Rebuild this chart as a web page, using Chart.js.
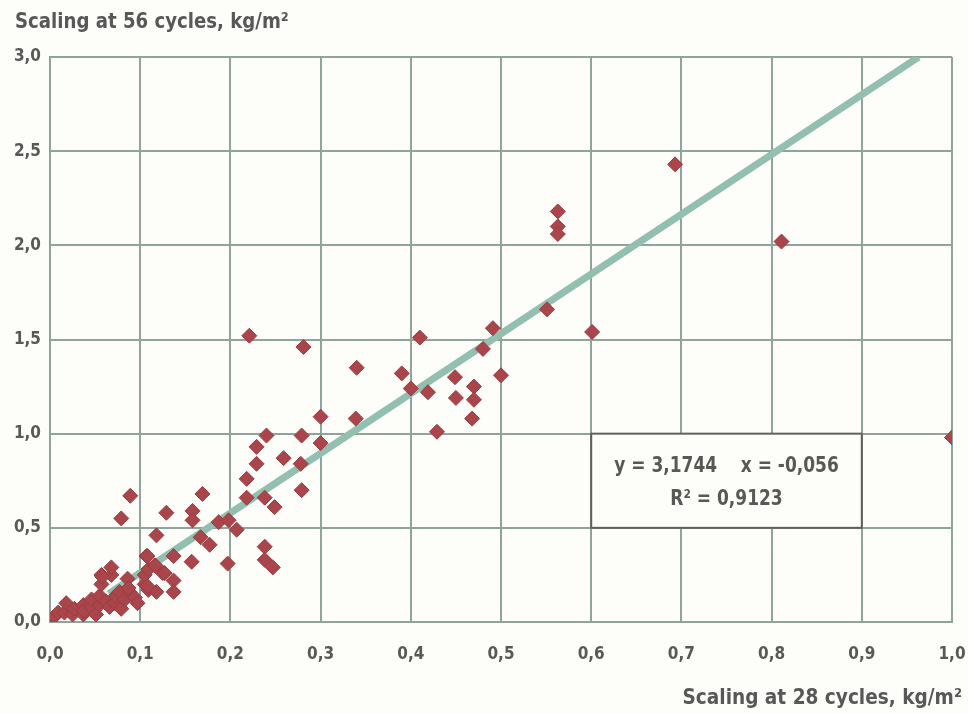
<!DOCTYPE html>
<html>
<head>
<meta charset="utf-8">
<script src="https://cdn.jsdelivr.net/npm/chart.js@4.4.1/dist/chart.umd.min.js"></script>
<style>
  html, body { margin: 0; padding: 0; background: #fdfdf9; }
  #wrap { width: 968px; height: 713px; position: relative; }
</style>
</head>
<body>
<div id="wrap"><canvas id="chart" width="968" height="713"></canvas></div>
<script>
// ========== Data ==========
const xTicks = [0, 0.1, 0.2, 0.3, 0.4, 0.5, 0.6, 0.7, 0.8, 0.9, 1.0];
const yTicks = [0, 0.5, 1.0, 1.5, 2.0, 2.5, 3.0];

// scaling at 28 cycles (x) vs scaling at 56 cycles (y), kg/m2
const scaling28 = [
  0.000, 0.005, 0.009, 0.016, 0.018, 0.025, 0.027, 0.037, 0.037, 0.038,
  0.046, 0.046, 0.051, 0.055, 0.055, 0.057, 0.057, 0.062, 0.066, 0.068,
  0.068, 0.072, 0.073, 0.077, 0.079, 0.083, 0.086, 0.088, 0.094, 0.097,
  0.105, 0.105, 0.107, 0.109, 0.109, 0.116, 0.118, 0.125, 0.058, 0.087,
  0.079, 0.089, 0.108, 0.118, 0.137, 0.137, 0.137, 0.127, 0.117, 0.108,
  0.129, 0.158, 0.158, 0.167, 0.177, 0.157, 0.187, 0.198, 0.207, 0.197,
  0.169, 0.218, 0.218, 0.238, 0.249, 0.238, 0.238, 0.247, 0.229, 0.229,
  0.259, 0.279, 0.278, 0.279, 0.240, 0.221, 0.281, 0.300, 0.300, 0.340,
  0.339, 0.390, 0.400, 0.419, 0.410, 0.429, 0.449, 0.450, 0.470, 0.470,
  0.468, 0.480, 0.491, 0.500, 0.551, 0.563, 0.563, 0.563, 0.601, 0.693,
  0.811, 1.000
];
const scaling56 = [
  0.00, 0.03, 0.05, 0.05, 0.10, 0.04, 0.07, 0.04, 0.09, 0.06,
  0.08, 0.12, 0.04, 0.09, 0.14, 0.20, 0.25, 0.11, 0.08, 0.25,
  0.29, 0.10, 0.14, 0.16, 0.07, 0.12, 0.23, 0.16, 0.13, 0.10,
  0.20, 0.25, 0.35, 0.17, 0.28, 0.30, 0.16, 0.26, 0.24, 0.18,
  0.55, 0.67, 0.19, 0.46, 0.35, 0.22, 0.16, 0.26, 0.30, 0.35,
  0.58, 0.59, 0.54, 0.45, 0.41, 0.32, 0.53, 0.54, 0.49, 0.31,
  0.68, 0.76, 0.66, 0.66, 0.61, 0.40, 0.33, 0.29, 0.93, 0.84,
  0.87, 0.99, 0.84, 0.70, 0.99, 1.52, 1.46, 1.09, 0.95, 1.35,
  1.08, 1.32, 1.24, 1.22, 1.51, 1.01, 1.30, 1.19, 1.25, 1.18,
  1.08, 1.45, 1.56, 1.31, 1.66, 2.18, 2.10, 2.06, 1.54, 2.43,
  2.02, 0.98
];

// regression line endpoints as drawn: y = 3,1744x - 0,056
const fitX = [0.065, 0.963];
const fitY = [0.15, 3.0];
const fitLabel = ['y = 3,1744    x = -0,056', 'R² = 0,9123'];
const yTitle = 'Scaling at 56 cycles, kg/m²';
const xTitle = 'Scaling at 28 cycles, kg/m²';

// ========== Styles ==========
const FONT = "'DejaVu Sans Condensed', 'DejaVu Sans', sans-serif";
const TEXT = '#585858';
const GRID = '#8fa59c';

const comma = v => Number(v).toFixed(1).replace('.', ',');

// draw text squeezed horizontally (the original uses a condensed face)
function squeezed(ctx, text, x, y, sx) {
  ctx.save();
  ctx.translate(x, y);
  ctx.scale(sx, 1);
  ctx.fillText(text, 0, 0);
  ctx.restore();
}

// titles + equation box, drawn on top of the chart area
const annotations = {
  id: 'annotations',
  afterDraw(chart) {
    const { ctx, scales } = chart;
    const x = scales.x, y = scales.y;
    ctx.save();

    // equation box sits between grid cells 0.6-0.9 / 0.5-1.0
    const bx1 = x.getPixelForValue(0.6), bx2 = x.getPixelForValue(0.9);
    const by1 = y.getPixelForValue(1.0), by2 = y.getPixelForValue(0.5);
    ctx.fillStyle = '#fdfdf9';
    ctx.fillRect(bx1, by1, bx2 - bx1, by2 - by1);
    ctx.strokeStyle = '#606060';
    ctx.lineWidth = 2;
    ctx.strokeRect(bx1, by1, bx2 - bx1, by2 - by1);

    ctx.fillStyle = TEXT;
    ctx.font = `bold 22px ${FONT}`;
    ctx.textAlign = 'center';
    ctx.textBaseline = 'middle';
    const cx = (bx1 + bx2) / 2;
    squeezed(ctx, fitLabel[0], cx, by1 + 33, 0.86);
    squeezed(ctx, fitLabel[1], cx, by1 + 66, 0.86);

    // axis titles
    ctx.font = `bold 21px ${FONT}`;
    ctx.textAlign = 'left';
    squeezed(ctx, yTitle, 15, 23, 0.96);
    ctx.textAlign = 'right';
    squeezed(ctx, xTitle, 962, 699, 0.98);
    ctx.restore();
  }
};

const ctx = document.getElementById('chart');
new Chart(ctx, {
  type: 'scatter',
  data: {
    datasets: [
      {
        label: 'Scaling',
        data: scaling28.map((v, i) => ({ x: v, y: scaling56[i] })),
        pointStyle: 'rectRot',
        pointRadius: 7.5,
        pointHoverRadius: 7.5,
        backgroundColor: '#aa464b',
        borderColor: '#983d42',
        borderWidth: 1,
        order: 1
      },
      {
        type: 'line',
        label: 'Fit',
        data: fitX.map((v, i) => ({ x: v, y: fitY[i] })),
        borderColor: '#92bfb0',
        borderWidth: 7,
        pointRadius: 0,
        fill: false,
        order: 2
      }
    ]
  },
  plugins: [annotations],
  options: {
    responsive: false,
    animation: false,
    layout: { padding: { top: 57, right: 0, left: 0, bottom: 0 } },
    plugins: {
      legend: { display: false },
      tooltip: { enabled: false }
    },
    scales: {
      x: {
        type: 'linear',
        min: 0,
        max: 1,
        afterBuildTicks: s => { s.ticks = xTicks.map(v => ({ value: v })); },
        afterFit: s => { s.height = 91; s.paddingLeft = 0; s.paddingRight = 16; },
        ticks: {
          padding: 22,
          color: TEXT,
          font: { family: FONT, size: 17, weight: 'bold' },
          callback: v => comma(v)
        },
        grid: { color: GRID, lineWidth: 2, drawTicks: false },
        border: { color: GRID, width: 2 }
      },
      y: {
        type: 'linear',
        min: 0,
        max: 3,
        afterBuildTicks: s => { s.ticks = yTicks.map(v => ({ value: v })); },
        afterFit: s => { s.width = 50; s.paddingTop = 0; s.paddingBottom = 0; },
        ticks: {
          padding: 9,
          color: TEXT,
          font: { family: FONT, size: 17, weight: 'bold' },
          callback: v => comma(v)
        },
        grid: { color: GRID, lineWidth: 2, drawTicks: false },
        border: { color: GRID, width: 2 }
      }
    }
  }
});
</script>
</body>
</html>
